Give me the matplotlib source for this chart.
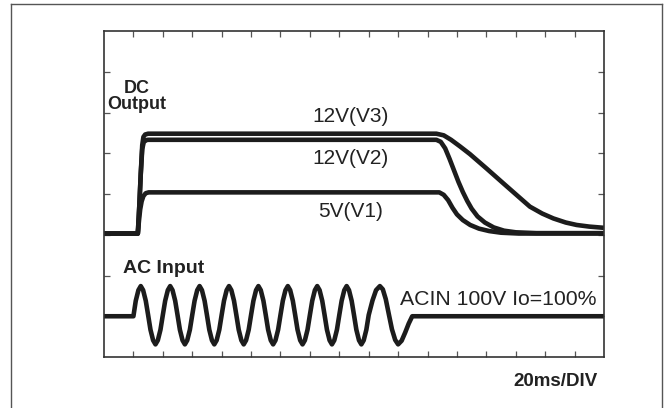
import numpy as np
import matplotlib
matplotlib.use("Agg")
import matplotlib.pyplot as plt
from matplotlib.lines import Line2D

plt.rcParams['font.family'] = ['Liberation Sans', 'DejaVu Sans']

# DC output curves (time in divisions of 20ms, level in divisions)
v3_t = [0.00, 1.15, 1.20, 1.25, 1.30, 1.34, 1.40, 1.50, 11.30, 11.55, 11.80, 12.10, 12.44,
        13.00, 13.58, 14.10, 14.48, 14.90, 15.28, 15.70, 16.07, 16.50, 17.00]
v3_v = [3.03, 3.03, 3.70, 4.50, 5.20, 5.40, 5.46, 5.48, 5.48, 5.44, 5.33, 5.17, 4.98,
        4.63, 4.26, 3.93, 3.69, 3.52, 3.40, 3.30, 3.24, 3.20, 3.17]

v2_t = [0.00, 1.15, 1.20, 1.25, 1.30, 1.35, 1.42, 1.50, 11.30, 11.45, 11.60, 11.75, 11.90,
        12.05, 12.20, 12.35, 12.50, 12.70, 12.95, 13.25, 13.60, 14.00, 14.70, 17.00]
v2_v = [3.03, 3.03, 3.70, 4.50, 5.10, 5.27, 5.32, 5.33, 5.33, 5.28, 5.12, 4.86, 4.58,
        4.30, 4.05, 3.83, 3.64, 3.45, 3.30, 3.18, 3.10, 3.06, 3.04, 3.04]

v1_t = [0.00, 1.15, 1.19, 1.23, 1.28, 1.34, 1.42, 1.52, 1.65, 11.40, 11.55, 11.70, 11.85,
        12.00, 12.20, 12.45, 12.75, 13.10, 13.50, 14.10, 17.00]
v1_v = [3.03, 3.03, 3.35, 3.62, 3.82, 3.95, 4.02, 4.04, 4.04, 4.04, 3.98, 3.85, 3.66,
        3.50, 3.36, 3.24, 3.15, 3.09, 3.05, 3.03, 3.03]

# AC input waveform
ac_t = [0.00,
        1.00, 1.08, 1.17, 1.25, 1.33, 1.42, 1.50, 1.58, 1.67, 1.75, 1.83, 1.92,
        2.00, 2.08, 2.17, 2.25, 2.33, 2.42, 2.50, 2.58, 2.67, 2.75, 2.83, 2.92,
        3.00, 3.08, 3.17, 3.25, 3.33, 3.42, 3.50, 3.58, 3.67, 3.75, 3.83, 3.92,
        4.00, 4.08, 4.17, 4.25, 4.33, 4.42, 4.50, 4.58, 4.67, 4.75, 4.83, 4.92,
        5.00, 5.08, 5.17, 5.25, 5.33, 5.42, 5.50, 5.58, 5.67, 5.75, 5.83, 5.92,
        6.00, 6.08, 6.17, 6.25, 6.33, 6.42, 6.50, 6.58, 6.67, 6.75, 6.83, 6.92,
        7.00, 7.08, 7.17, 7.25, 7.33, 7.42, 7.50, 7.58, 7.67, 7.75, 7.83, 7.92,
        8.00, 8.08, 8.17, 8.25, 8.33, 8.42, 8.50, 8.58, 8.67, 8.75, 8.83, 8.92,
        9.00, 9.13, 9.25, 9.38, 9.48, 9.58, 9.69, 9.79, 9.90, 10.00, 10.12, 10.24, 10.36, 10.48,
        17.00]
ac_v = [1.00,
        1.00, 1.38, 1.64, 1.74, 1.64, 1.38, 1.03, 0.67, 0.41, 0.31, 0.41, 0.67,
        1.03, 1.38, 1.64, 1.74, 1.64, 1.38, 1.03, 0.67, 0.41, 0.31, 0.41, 0.67,
        1.03, 1.38, 1.64, 1.74, 1.64, 1.38, 1.03, 0.67, 0.41, 0.31, 0.41, 0.67,
        1.03, 1.38, 1.64, 1.74, 1.64, 1.38, 1.03, 0.67, 0.41, 0.31, 0.41, 0.67,
        1.03, 1.38, 1.64, 1.74, 1.64, 1.38, 1.03, 0.67, 0.41, 0.31, 0.41, 0.67,
        1.03, 1.38, 1.64, 1.74, 1.64, 1.38, 1.03, 0.67, 0.41, 0.31, 0.41, 0.67,
        1.03, 1.38, 1.64, 1.74, 1.64, 1.38, 1.03, 0.67, 0.41, 0.31, 0.41, 0.67,
        1.03, 1.38, 1.64, 1.74, 1.64, 1.38, 1.03, 0.67, 0.41, 0.31, 0.41, 0.67,
        1.03, 1.39, 1.64, 1.74, 1.66, 1.42, 1.03, 0.68, 0.42, 0.31, 0.40, 0.60, 0.82, 1.00,
        1.00]

x_divs = 17
y_divs = 8

fig = plt.figure(figsize=(6.67, 4.08), dpi=100)
ax = fig.add_axes([104 / 667, 1 - 357 / 408, 500 / 667, 326 / 408])

lw = 3.3
col = '#1c1c1c'
ax.plot(v1_t, v1_v, color=col, lw=lw, solid_capstyle='butt', solid_joinstyle='round')
ax.plot(v2_t, v2_v, color=col, lw=lw, solid_capstyle='butt', solid_joinstyle='round')
ax.plot(v3_t, v3_v, color=col, lw=lw, solid_capstyle='butt', solid_joinstyle='round')
ax.plot(ac_t, ac_v, color=col, lw=lw, solid_capstyle='butt', solid_joinstyle='round')

ax.set_xlim(0, x_divs)
ax.set_ylim(0, y_divs)
ax.set_xticks(np.arange(1, x_divs))
ax.set_yticks(np.arange(1, y_divs))
ax.tick_params(direction='in', length=4.5, width=0.9, color='#555555',
               top=True, right=True, labelbottom=False, labelleft=False)
for s in ax.spines.values():
    s.set_color('#333333')
    s.set_linewidth(1.2)

ax.text(1.1, 6.4, 'DC\nOutput', ha='center', va='center', fontsize=13,
        fontweight='bold', color='#222222', linespacing=0.95)
ax.text(8.37, 5.91, '12V(V3)', ha='center', va='center', fontsize=15, color='#222222')
ax.text(8.37, 4.88, '12V(V2)', ha='center', va='center', fontsize=15, color='#222222')
ax.text(8.37, 3.56, '5V(V1)', ha='center', va='center', fontsize=15, color='#222222')
ax.text(0.65, 2.18, 'AC Input', ha='left', va='center', fontsize=14,
        fontweight='bold', color='#222222')
ax.text(10.06, 1.40, 'ACIN 100V Io=100%', ha='left', va='center', fontsize=15.3, color='#222222')
fig.text(598 / 667, 1 - 382 / 408, '20ms/DIV', ha='right', va='center', fontsize=13.5,
         fontweight='bold', color='#222222')

# outer frame
bx0, bx1, by1 = 11 / 667, 662 / 667, 1 - 4 / 408
for xs, ys in [([bx0, bx0], [0, by1]), ([bx0, bx1], [by1, by1]), ([bx1, bx1], [by1, 0])]:
    fig.add_artist(Line2D(xs, ys, color='#555555', lw=1.0, transform=fig.transFigure))

fig.savefig('out.png', dpi=100)
